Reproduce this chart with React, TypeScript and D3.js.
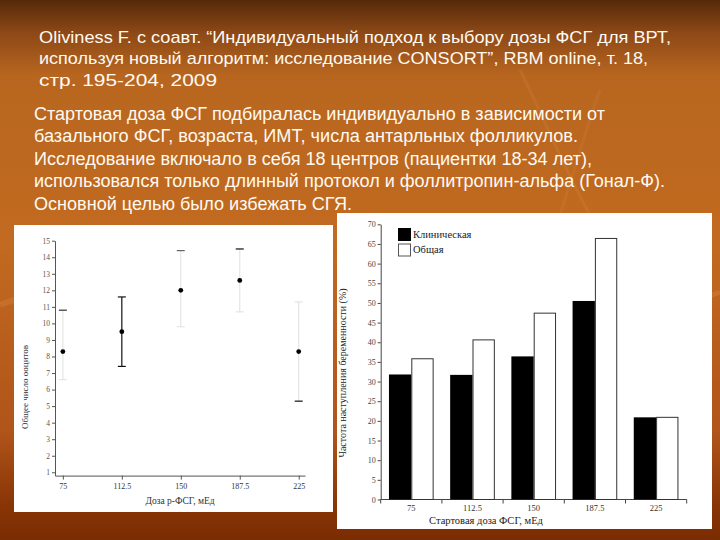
import { useEffect, useRef } from 'react';
import * as d3 from 'd3';

const WIDTH = 720;
const HEIGHT = 540;

// slide text
const citationLines = [
  'Oliviness F. с соавт. “Индивидуальный подход к выбору дозы ФСГ для ВРТ,',
  'используя новый алгоритм: исследование CONSORT”, RBM online, т. 18,',
  'стр. 195-204, 2009',
];
const summaryLines = [
  'Стартовая доза ФСГ подбиралась индивидуально в зависимости от',
  'базального ФСГ, возраста, ИМТ, числа антарльных фолликулов.',
  'Исследование включало в себя 18 центров (пациентки 18-34 лет),',
  'использовался только длинный протокол и фоллитропин-альфа (Гонал-Ф).',
  'Основной целью было избежать СГЯ.',
];

// left chart: oocytes by dose (mean with error bars)
const oocyteDoses = [75, 112.5, 150, 187.5, 225];
const oocyteMeans = [8.3, 9.5, 12.0, 12.6, 8.3];
const oocyteUpper = [10.8, 11.6, 14.4, 14.5, 11.3];
const oocyteLower = [6.6, 7.4, 9.8, 10.7, 5.3];
const oocyteTicks = [1, 2, 3, 4, 5, 6, 7, 8, 9, 10, 11, 12, 13, 14, 15];

// right chart: pregnancy rate by starting dose
const pregnancyDoses = ['75', '112.5', '150', '187.5', '225'];
const clinicalRate = [31.8, 31.7, 36.4, 50.5, 20.9];
const overallRate = [35.8, 40.6, 47.4, 66.4, 20.9];
const pregnancyTicks = [0, 5, 10, 15, 20, 25, 30, 35, 40, 45, 50, 55, 60, 65, 70];
const seriesNames = ['Клиническая', 'Общая'];

// layout bits (right end of each text line, to match the slide widths)
const citationRight = [671, 648, 217];
const summaryRight = [605, 578, 592, 665, 352];

// the scanned whiskers are mostly washed out; which pieces still show dark
const FAINT = '#e4e4e4';
const whiskerInk = [
  { line: FAINT, upper: '#333', lower: FAINT },
  { line: '#111', upper: '#111', lower: '#111' },
  { line: FAINT, upper: '#666', lower: FAINT },
  { line: FAINT, upper: '#111', lower: FAINT },
  { line: FAINT, upper: FAINT, lower: '#111' },
];

const SERIF = '"Liberation Serif", "DejaVu Serif", serif';
const SANS = '"Liberation Sans", Arial, sans-serif';

export default function App() {
  const svgRef = useRef<SVGSVGElement>(null);

  useEffect(() => {
    if (!svgRef.current) return;
    const svg = d3.select(svgRef.current);
    svg.selectAll('*').remove();

    // ---- slide background
    const defs = svg.append('defs');
    const bg = defs.append('linearGradient')
      .attr('id', 'slide-bg')
      .attr('x1', '0%').attr('x2', '0%')
      .attr('y1', '0%').attr('y2', '100%');
    [
      [0, '#552a0a'],
      [0.06, '#8c4816'],
      [0.14, '#b8661f'],
      [0.45, '#c26a20'],
      [0.8, '#b0541a'],
      [0.93, '#8a3606'],
      [1, '#7a2c02'],
    ].forEach(([o, c]) => {
      bg.append('stop').attr('offset', o as number).attr('stop-color', c as string);
    });
    svg.append('rect')
      .attr('width', WIDTH)
      .attr('height', HEIGHT)
      .attr('fill', 'url(#slide-bg)');

    // faint decorative swooshes of the template
    const swoosh = svg.append('g').attr('fill', 'none').attr('stroke', '#f0a860');
    swoosh.append('path')
      .attr('d', 'M0,305 C40,290 90,272 160,262')
      .attr('stroke-width', 6).attr('opacity', 0.18);
    swoosh.append('path')
      .attr('d', 'M520,70 C545,120 560,160 590,215')
      .attr('stroke-width', 3).attr('opacity', 0.12);
    swoosh.append('path')
      .attr('d', 'M600,90 C585,130 575,170 560,215')
      .attr('stroke-width', 3).attr('opacity', 0.1);
    swoosh.append('path')
      .attr('d', 'M700,300 C708,296 714,294 720,292')
      .attr('stroke-width', 5).attr('opacity', 0.2);

    // ---- slide text
    const text = svg.append('g')
      .attr('font-family', SANS)
      .attr('fill', '#fffaf2');
    citationLines.forEach((line, i) => {
      text.append('text')
        .attr('x', 39)
        .attr('y', 42.5 + i * 21.5)
        .attr('font-size', 17)
        .attr('textLength', citationRight[i] - 39)
        .attr('lengthAdjust', 'spacingAndGlyphs')
        .text(line);
    });
    summaryLines.forEach((line, i) => {
      text.append('text')
        .attr('x', 34)
        .attr('y', 119.5 + i * 22.6)
        .attr('font-size', 17.5)
        .attr('textLength', summaryRight[i] - 34)
        .attr('lengthAdjust', 'spacingAndGlyphs')
        .text(line);
    });

    // ---- left chart: oocytes
    svg.append('rect')
      .attr('x', 14).attr('y', 225)
      .attr('width', 319).attr('height', 287)
      .attr('fill', '#ffffff');

    const x1 = d3.scaleLinear().domain([70, 229]).range([55, 305]);
    const y1 = d3.scaleLinear().domain([0.8, 15]).range([475.6, 240.7]);

    const left = svg.append('g');

    left.append('g')
      .attr('transform', `translate(${x1.range()[0]},0)`)
      .call(d3.axisLeft(y1).tickValues(oocyteTicks).tickSize(3).tickSizeOuter(0).tickPadding(2))
      .call(g => g.selectAll('text').attr('font-size', 7.5).attr('font-family', SERIF).attr('fill', '#555'))
      .call(g => g.selectAll('line,path').attr('stroke', '#555'));

    left.append('g')
      .attr('transform', `translate(0,${y1.range()[0]})`)
      .call(d3.axisBottom(x1).tickValues(oocyteDoses).tickSize(4).tickSizeOuter(0).tickPadding(4)
        .tickFormat(d => String(d)))
      .call(g => g.selectAll('text').attr('font-size', 8).attr('font-family', SERIF).attr('fill', '#333'))
      .call(g => g.selectAll('line,path').attr('stroke', '#555'));

    left.append('text')
      .attr('transform', `translate(28,${387}) rotate(-90)`)
      .attr('text-anchor', 'middle')
      .attr('font-family', SERIF)
      .attr('font-size', 9)
      .attr('fill', '#333')
      .text('Общее число ооцитов');

    left.append('text')
      .attr('x', 180)
      .attr('y', 504)
      .attr('text-anchor', 'middle')
      .attr('font-family', SERIF)
      .attr('font-size', 9.5)
      .attr('fill', '#333')
      .text('Доза р-ФСГ, мЕд');

    oocyteDoses.forEach((dose, i) => {
      const cx = x1(dose);
      const ink = whiskerInk[i];
      const cap = 4;
      left.append('line')
        .attr('x1', cx).attr('x2', cx)
        .attr('y1', y1(oocyteUpper[i])).attr('y2', y1(oocyteLower[i]))
        .attr('stroke', ink.line).attr('stroke-width', 1.2);
      left.append('line')
        .attr('x1', cx - cap).attr('x2', cx + cap)
        .attr('y1', y1(oocyteUpper[i])).attr('y2', y1(oocyteUpper[i]))
        .attr('stroke', ink.upper).attr('stroke-width', 1.2);
      left.append('line')
        .attr('x1', cx - cap).attr('x2', cx + cap)
        .attr('y1', y1(oocyteLower[i])).attr('y2', y1(oocyteLower[i]))
        .attr('stroke', ink.lower).attr('stroke-width', 1.2);
      left.append('circle')
        .attr('cx', cx)
        .attr('cy', y1(oocyteMeans[i]))
        .attr('r', 2.4)
        .attr('fill', '#000');
    });

    // ---- right chart: pregnancy rate
    svg.append('rect')
      .attr('x', 337).attr('y', 213)
      .attr('width', 375).attr('height', 316)
      .attr('fill', '#ffffff');

    const xg = d3.scaleBand<string>()
      .domain(pregnancyDoses)
      .range([380.7, 686.7])
      .paddingInner(0.27)
      .paddingOuter(0.135);
    const xs = d3.scaleBand<string>()
      .domain(seriesNames)
      .range([0, xg.bandwidth()]);
    const y2 = d3.scaleLinear().domain([0, 70]).range([499.5, 224.3]);

    const right = svg.append('g');

    right.append('g')
      .attr('transform', `translate(${xg.range()[0]},0)`)
      .call(d3.axisLeft(y2).tickValues(pregnancyTicks).tickSize(3).tickSizeOuter(0).tickPadding(2))
      .call(g => g.selectAll('text').attr('font-size', 8).attr('font-family', SERIF).attr('fill', '#444'))
      .call(g => g.selectAll('line,path').attr('stroke', '#444'));

    // x axis: labels at group centres, tick marks at group boundaries
    const [gx0, gx1] = xg.range();
    right.append('line')
      .attr('x1', gx0).attr('x2', gx1)
      .attr('y1', y2(0)).attr('y2', y2(0))
      .attr('stroke', '#444');
    d3.range(pregnancyDoses.length + 1).forEach(k => {
      const bx = gx0 + k * xg.step();
      right.append('line')
        .attr('x1', bx).attr('x2', bx)
        .attr('y1', y2(0)).attr('y2', y2(0) + 4)
        .attr('stroke', '#444');
    });
    pregnancyDoses.forEach(d => {
      right.append('text')
        .attr('x', (xg(d) ?? 0) + xg.bandwidth() / 2)
        .attr('y', y2(0) + 11.5)
        .attr('text-anchor', 'middle')
        .attr('font-family', SERIF)
        .attr('font-size', 8.5)
        .attr('fill', '#333')
        .text(d);
    });

    right.append('text')
      .attr('transform', `translate(346,${373}) rotate(-90)`)
      .attr('text-anchor', 'middle')
      .attr('font-family', SERIF)
      .attr('font-size', 10)
      .attr('fill', '#222')
      .text('Частота наступления беременности (%)');

    right.append('text')
      .attr('x', 486)
      .attr('y', 524)
      .attr('text-anchor', 'middle')
      .attr('font-family', SERIF)
      .attr('font-size', 10.5)
      .attr('fill', '#222')
      .text('Стартовая доза ФСГ, мЕд');

    pregnancyDoses.forEach((d, i) => {
      const gx = xg(d) ?? 0;
      right.append('rect')
        .attr('x', gx + (xs(seriesNames[0]) ?? 0))
        .attr('y', y2(clinicalRate[i]))
        .attr('width', xs.bandwidth())
        .attr('height', y2(0) - y2(clinicalRate[i]))
        .attr('fill', '#000');
      right.append('rect')
        .attr('x', gx + (xs(seriesNames[1]) ?? 0) + 0.5)
        .attr('y', y2(overallRate[i]))
        .attr('width', xs.bandwidth() - 1)
        .attr('height', y2(0) - y2(overallRate[i]))
        .attr('fill', '#fff')
        .attr('stroke', '#333')
        .attr('stroke-width', 1);
    });

    // legend
    const legend = right.append('g').attr('transform', 'translate(398,228)');
    seriesNames.forEach((name, i) => {
      legend.append('rect')
        .attr('x', 0.5)
        .attr('y', i * 15.5 + 0.5)
        .attr('width', 12)
        .attr('height', 12)
        .attr('fill', i === 0 ? '#000' : '#fff')
        .attr('stroke', i === 0 ? '#000' : '#555');
      legend.append('text')
        .attr('x', 15)
        .attr('y', i * 15.5 + 9.5)
        .attr('font-family', SERIF)
        .attr('font-size', 10.5)
        .attr('fill', '#222')
        .text(name);
    });
  }, []);

  return (
    <svg
      ref={svgRef}
      width={WIDTH}
      height={HEIGHT}
      style={{ position: 'absolute', left: 0, top: 0, display: 'block' }}
    />
  );
}
